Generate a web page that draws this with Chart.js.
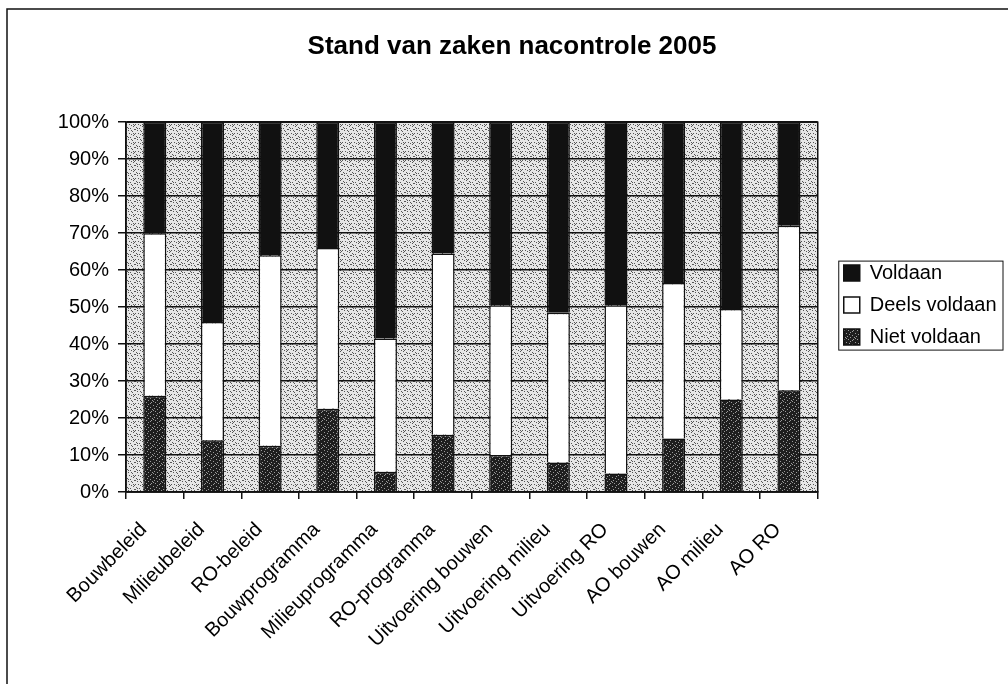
<!DOCTYPE html>
<html>
<head>
<meta charset="utf-8">
<title>Stand van zaken nacontrole 2005</title>
<script src="https://cdn.jsdelivr.net/npm/chart.js@4.4.1/dist/chart.umd.min.js"></script>
<style>
  body { margin: 0; background: #fff; }
  #wrap { width: 1008px; height: 684px; }
</style>
</head>
<body>
<div id="wrap"><canvas id="chart" width="1008" height="684"></canvas></div>
<script>
const categories = ["Bouwbeleid", "Milieubeleid", "RO-beleid", "Bouwprogramma", "Milieuprogramma", "RO-programma",
  "Uitvoering bouwen", "Uitvoering milieu", "Uitvoering RO", "AO bouwen", "AO milieu", "AO RO"];
const nietVoldaan = [26, 14, 12.5, 22.5, 5.5, 15.5, 10, 8, 5, 14.5, 25, 27.5];
const deelsVoldaan = [44, 32, 51.5, 43.5, 36, 49, 40.5, 40.5, 45.5, 42, 24.5, 44.5];
const voldaan = [30, 54, 36, 34, 58.5, 35.5, 49.5, 51.5, 49.5, 43.5, 50.5, 28];
const yTicks = [0, 10, 20, 30, 40, 50, 60, 70, 80, 90, 100];

const FONT = "'Liberation Sans', Arial, sans-serif";

// small tile with fixed dots, repeated as a fill pattern (scan-like texture)
function speckle(bg, fg, dots) {
  const c = document.createElement('canvas');
  c.width = 9; c.height = 9;
  const g = c.getContext('2d');
  g.fillStyle = bg;
  g.fillRect(0, 0, 9, 9);
  g.fillStyle = fg;
  dots.forEach(([x, y]) => g.fillRect(x, y, 1, 1));
  return g.createPattern(c, 'repeat');
}
const dotsA = [[1,1],[4,2],[7,0],[2,4],[6,5],[0,7],[3,7],[8,3],[5,8],[7,7],[2,2],[5,4],[8,8],[0,3]];
const dotsB = [[0,0],[3,1],[6,2],[1,3],[4,4],[8,4],[2,6],[6,7],[0,5],[4,8],[7,6]];
const plotFill = speckle('#e6e6e6', '#555555', dotsA);
const nietFill = speckle('#1e1e1e', '#9a9a9a', dotsB);

const chartDecor = {
  id: 'chartDecor',
  afterLayout(chart) {
    // legend: a small gap right of the plot, centred on it vertically
    const l = chart.legend, a = chart.chartArea;
    const w = l.right - l.left, h = l.bottom - l.top;
    l.left = a.right + 14;
    l.right = l.left + w;
    l.top = (a.top + a.bottom) / 2 - 2 - h / 2;
    l.bottom = l.top + h;
  },
  beforeDraw(chart) {
    const {ctx, chartArea: a} = chart;
    ctx.save();
    ctx.fillStyle = plotFill;
    ctx.fillRect(a.left, a.top, a.right - a.left, a.bottom - a.top);
    ctx.restore();
  },
  afterDraw(chart) {
    const {ctx, chartArea: a} = chart;
    ctx.save();
    ctx.strokeStyle = '#111';
    ctx.lineWidth = 1.5;
    // plot area frame
    ctx.strokeRect(a.left, a.top, a.right - a.left, a.bottom - a.top);
    // outer frame (top and left edge only, like the scan)
    ctx.beginPath();
    ctx.moveTo(7, 684);
    ctx.lineTo(7, 9);
    ctx.lineTo(1008, 9);
    ctx.stroke();
    // legend box
    const boxes = chart.legend.legendHitBoxes;
    if (boxes && boxes.length) {
      const first = boxes[0], last = boxes[boxes.length - 1];
      const x0 = first.left - 5, y0 = first.top - 2;
      const y1 = last.top + last.height + 3;
      ctx.lineWidth = 1;
      ctx.strokeRect(x0, y0, chart.width - 5 - x0, y1 - y0);
    }
    ctx.restore();
  }
};

new Chart(document.getElementById('chart'), {
  type: 'bar',
  data: {
    labels: categories,
    datasets: [
      { label: 'Niet voldaan', data: nietVoldaan, backgroundColor: nietFill },
      { label: 'Deels voldaan', data: deelsVoldaan, backgroundColor: '#ffffff' },
      { label: 'Voldaan', data: voldaan, backgroundColor: '#111111' }
    ]
  },
  options: {
    responsive: false,
    animation: false,
    layout: { padding: { left: 31.5, right: 15.5, top: 0, bottom: 0 } },
    datasets: {
      bar: { barPercentage: 0.4, categoryPercentage: 1, borderColor: '#111', borderWidth: 1.5 }
    },
    plugins: {
      title: {
        display: true,
        text: 'Stand van zaken nacontrole 2005',
        color: '#000',
        font: { family: FONT, size: 26, weight: 'bold' },
        padding: { top: 31, bottom: 60 }
      },
      legend: {
        position: 'right',
        reverse: true,
        labels: {
          color: '#000',
          font: { family: FONT, size: 20 },
          boxWidth: 16,
          boxHeight: 16,
          padding: 12
        }
      },
      tooltip: { enabled: false }
    },
    scales: {
      x: {
        stacked: true,
        grid: { display: true, drawOnChartArea: false, drawTicks: true, tickLength: 7, color: '#111', lineWidth: 1.5 },
        border: { color: '#111', width: 1.5 },
        ticks: {
          color: '#000', font: { family: FONT, size: 20 },
          autoSkip: false, maxRotation: 45, minRotation: 45, padding: 19, labelOffset: -11
        },
        afterFit(s) { s.height = 192; }
      },
      y: {
        stacked: true,
        min: 0, max: 100,
        afterBuildTicks(s) { s.ticks = yTicks.map(v => ({ value: v })); },
        grid: { color: '#111', lineWidth: 1.5, tickLength: 8 },
        border: { color: '#111', width: 1.5 },
        ticks: {
          color: '#000', font: { family: FONT, size: 20 }, padding: 9,
          callback: v => v + '%'
        },
        afterFit(s) { s.width = 94.5; }
      }
    }
  },
  plugins: [chartDecor]
});
</script>
</body>
</html>
